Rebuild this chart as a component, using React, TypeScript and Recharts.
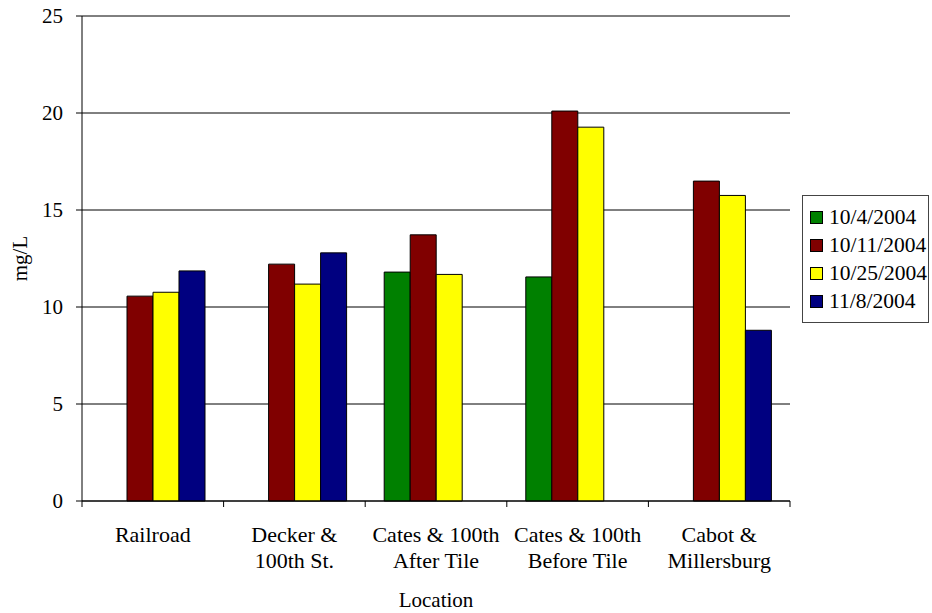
import React from 'react';
import { BarChart, Bar, XAxis, YAxis, CartesianGrid } from 'recharts';

// Sampling locations (line breaks mark the wrapped label lines)
const locations = [
  'Railroad',
  'Decker &\n100th St.',
  'Cates & 100th\nAfter Tile',
  'Cates & 100th\nBefore Tile',
  'Cabot &\nMillersburg',
];

// Concentrations in mg/L for each sampling date (null = not sampled)
const oct4: (number | null)[] = [null, null, 11.8, 11.55, null];
const oct11: (number | null)[] = [10.56, 12.21, 13.72, 20.1, 16.49];
const oct25: (number | null)[] = [10.76, 11.18, 11.68, 19.27, 15.75];
const nov8: (number | null)[] = [11.86, 12.79, null, null, 8.8];

const seriesNames = ['10/4/2004', '10/11/2004', '10/25/2004', '11/8/2004'];
const seriesColors = ['#008000', '#800000', '#FFFF00', '#000080'];
const yTicks = [0, 5, 10, 15, 20, 25];

const data = locations.map((loc, i) => ({
  loc,
  s0: oct4[i],
  s1: oct11[i],
  s2: oct25[i],
  s3: nov8[i],
}));

const FONT = "'Liberation Serif', Tinos, 'DejaVu Serif', serif";
const W = 932;
const H = 613;
const MARGIN = { top: 16, right: 142, left: 0, bottom: 0 };
const Y_AXIS_W = 82;
const X_AXIS_H = 112;
const PLOT_W = W - MARGIN.right - Y_AXIS_W;

function CategoryTick(props: any) {
  const { x, y, payload, index, visibleTicksCount } = props;
  const count = visibleTicksCount || locations.length;
  const step = PLOT_W / count;
  const lines = String(payload.value).split('\n');
  return (
    <g>
      <line x1={x - step / 2} x2={x - step / 2} y1={y} y2={y + 6} stroke="#000" />
      {index === count - 1 && (
        <line x1={x + step / 2} x2={x + step / 2} y1={y} y2={y + 6} stroke="#000" />
      )}
      {lines.map((ln, k) => (
        <text
          key={k}
          x={x}
          y={y + 41 + k * 26}
          textAnchor="middle"
          fill="#000"
          style={{ fontFamily: FONT, fontSize: 22 }}
        >
          {ln}
        </text>
      ))}
    </g>
  );
}

function YTitle(props: any) {
  const vb = props.viewBox || {};
  const cy = (vb.y ?? 0) + (vb.height ?? 0) / 2;
  return (
    <text
      x={20}
      y={cy}
      transform={`rotate(-90, 20, ${cy})`}
      textAnchor="middle"
      dominantBaseline="central"
      fill="#000"
      style={{ fontFamily: FONT, fontSize: 21 }}
    >
      mg/L
    </text>
  );
}

function LegendBox() {
  return (
    <div
      style={{
        position: 'absolute',
        left: 802,
        top: 195,
        border: '1px solid #444',
        background: '#fff',
        width: 127,
        height: 128,
        boxSizing: 'border-box',
        paddingTop: 8,
        fontFamily: FONT,
        fontSize: 21.5,
        color: '#000',
      }}
    >
      {seriesNames.map((name, i) => (
        <div
          key={name}
          style={{ display: 'flex', alignItems: 'center', height: 27.8, whiteSpace: 'nowrap' }}
        >
          <span
            style={{
              display: 'inline-block',
              width: 11,
              height: 11,
              background: seriesColors[i],
              border: '1px solid #000',
              marginLeft: 7,
              marginRight: 6,
            }}
          />
          <span>{name}</span>
        </div>
      ))}
    </div>
  );
}

export default function App() {
  return (
    <div
      style={{
        position: 'absolute',
        left: 0,
        top: 0,
        width: W,
        height: H,
        background: '#fff',
        fontFamily: FONT,
      }}
    >
      <BarChart width={W} height={H} data={data} margin={MARGIN} barGap={0} barSize={26}>
        <CartesianGrid vertical={false} stroke="#000" strokeWidth={1} />
        <XAxis
          dataKey="loc"
          height={X_AXIS_H}
          interval={0}
          axisLine={{ stroke: '#000' }}
          tickLine={false}
          tickSize={0}
          tickMargin={0}
          tick={<CategoryTick />}
          label={{
            value: 'Location',
            position: 'insideBottom',
            offset: 6,
            fill: '#000',
            style: { fontFamily: FONT, fontSize: 21 },
          }}
        />
        <YAxis
          width={Y_AXIS_W}
          domain={[0, 25]}
          ticks={yTicks}
          interval={0}
          axisLine={{ stroke: '#000' }}
          tickLine={{ stroke: '#000' }}
          tickSize={6}
          tickMargin={13}
          tick={{ fill: '#000', style: { fontFamily: FONT, fontSize: 21 } }}
          label={<YTitle />}
        />
        {seriesNames.map((name, i) => (
          <Bar
            key={name}
            dataKey={`s${i}`}
            name={name}
            fill={seriesColors[i]}
            stroke="#000"
            strokeWidth={1}
            isAnimationActive={false}
          />
        ))}
      </BarChart>
      <LegendBox />
    </div>
  );
}
